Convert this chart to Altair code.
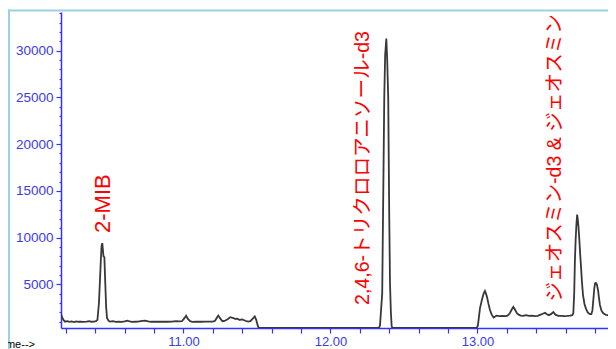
import altair as alt
import pandas as pd

# ---- chromatogram trace (retention time [min], abundance) ----
time_min = [
    10.167, 10.175, 10.185, 10.195, 10.21, 10.225, 10.24, 10.255, 10.27, 10.285,
    10.30, 10.32, 10.34, 10.36, 10.375, 10.39, 10.405, 10.415, 10.425, 10.432,
    10.438, 10.443, 10.448, 10.452, 10.456, 10.462, 10.468, 10.474, 10.48, 10.49,
    10.50, 10.52, 10.54, 10.56, 10.58, 10.60, 10.62, 10.635, 10.65, 10.67,
    10.69, 10.72, 10.74, 10.76, 10.78, 10.80, 10.83, 10.86, 10.89, 10.92,
    10.95, 10.97, 10.99, 11.005, 11.018, 11.03, 11.045, 11.06, 11.09, 11.12,
    11.15, 11.18, 11.20, 11.215, 11.228, 11.237, 11.25, 11.265, 11.28, 11.30,
    11.318, 11.335, 11.35, 11.365, 11.38, 11.40, 11.42, 11.44, 11.455, 11.47,
    11.485, 11.495, 11.505, 11.512,
    11.60, 11.90, 12.20, 12.330,
    12.337, 12.352, 12.359, 12.366, 12.372, 12.380, 12.386, 12.393, 12.400, 12.405,
    12.411, 12.416, 12.42,
    12.70, 12.995,
    13.003, 13.017, 13.030, 13.042, 13.051, 13.058, 13.065, 13.075, 13.085, 13.097,
    13.11, 13.13, 13.15, 13.17, 13.19, 13.205, 13.22, 13.235, 13.244, 13.255,
    13.268, 13.28, 13.295, 13.31, 13.33, 13.35, 13.37, 13.39, 13.41, 13.43,
    13.445, 13.459, 13.47, 13.485, 13.50, 13.516, 13.53, 13.55, 13.57, 13.59,
    13.61, 13.63, 13.645, 13.652, 13.658, 13.663, 13.668, 13.673, 13.678, 13.682,
    13.687, 13.693, 13.698, 13.704, 13.711, 13.718, 13.728, 13.738, 13.75, 13.765,
    13.775, 13.782, 13.788, 13.795, 13.800, 13.806, 13.812, 13.820, 13.827, 13.833,
    13.843, 13.854, 13.874, 13.90, 13.92, 13.942,
]
abundance = [
    1850, 1450, 1150, 1000, 1050, 980, 1020, 960, 1030, 990,
    1000, 970, 1010, 1060, 990, 1000, 1050, 1200, 3000, 5400,
    7600, 9100, 9400, 8700, 8000, 7900, 5200, 2600, 1400, 1100,
    1000, 1050, 980, 1000, 980, 1020, 1100, 1020, 980, 990,
    1000, 1080, 1120, 1040, 990, 1000, 990, 1000, 990, 1000,
    1060, 1030, 1050, 1350, 1640, 1300, 1050, 980, 1000, 990,
    1000, 1010, 1000, 1100, 1450, 1650, 1350, 1050, 1080, 1250,
    1480, 1420, 1300, 1320, 1200, 1230, 1100, 1000, 1050, 1300,
    1560, 1200, 600, 330,
    330, 330, 330, 330,
    600, 4000, 14400, 25000, 29500, 31300, 29000, 24900, 12200, 5100,
    2000, 600, 330,
    330, 330,
    600, 2430, 3320, 4000, 4280, 4000, 3640, 2900, 2250, 1750,
    1450, 1650, 1600, 1620, 1600, 1650, 1900, 2350, 2580, 2300,
    1900, 1750, 1650, 1620, 1700, 1620, 1640, 1600, 1620, 1750,
    1850, 1960, 1820, 1700, 1800, 2030, 1750, 1620, 1620, 1600,
    1620, 1650, 1700, 1900, 4000, 7600, 9800, 11350, 12450, 12000,
    11200, 9800, 8400, 7000, 5200, 3850, 2900, 2400, 2000, 1800,
    1800, 2200, 3320, 4600, 5100, 5150, 5000, 4390, 3500, 2790,
    2200, 1930, 1720, 1700, 1690, 1700,
]

# ---- peak annotations ----
label_text = ["2-MIB", "2,4,6-トリクロロアニソール-d3", "ジェオスミン-d3 & ジェオスミン"]
label_time = [10.450, 12.223, 13.527]
label_level = [10490, 2785, 3160]

# ---- axes ----
x_ticks = [10.2, 10.4, 10.6, 10.8, 11.0, 11.2, 11.4, 11.6, 11.8, 12.0,
           12.2, 12.4, 12.6, 12.8, 13.0, 13.2, 13.4, 13.6, 13.8]
y_ticks = list(range(1000, 35000, 1000))
x_domain = [10.167, 13.888]
y_domain = [323, 34140]

W, H = 547, 316
AXIS_BLUE = "#3333ff"
LABEL_BLUE = "#3a3ae8"
FRAME = "#9dd1de"

trace_df = pd.DataFrame({"t": time_min, "a": abundance})
label_df = pd.DataFrame({"label": label_text, "t": label_time, "a": label_level})
one = pd.DataFrame({"k": [0]})

x_scale = alt.Scale(domain=x_domain, nice=False, zero=False)
y_scale = alt.Scale(domain=y_domain, nice=False, zero=False)

x_axis = alt.Axis(
    values=x_ticks,
    labelExpr="abs(datum.value - round(datum.value)) < 0.001 ? format(datum.value, '.2f') : ''",
    title=None, grid=False,
    domainColor=AXIS_BLUE, domainWidth=1.5,
    tickColor=AXIS_BLUE, tickSize=5, tickWidth=1.2,
    labelColor=LABEL_BLUE, labelFont="Liberation Sans", labelFontSize=13,
    labelPadding=2, labelFlush=False, labelOverlap=False,
)
y_axis = alt.Axis(
    values=y_ticks,
    labelExpr="datum.value % 5000 == 0 ? format(datum.value, 'd') : ''",
    title=None, grid=False,
    domainColor=AXIS_BLUE, domainWidth=1.5,
    tickColor=AXIS_BLUE, tickWidth=1.2,
    tickSize={"condition": {"test": "datum.value % 5000 == 0", "value": 5}, "value": 2},
    labelColor=LABEL_BLUE, labelFont="Liberation Sans", labelFontSize=13.5,
    labelPadding=3, labelFlush=False, labelOverlap=False,
)

trace = alt.Chart(trace_df).mark_line(
    color="#383838", strokeWidth=1.8, clip=True
).encode(
    x=alt.X("t:Q", scale=x_scale, axis=x_axis),
    y=alt.Y("a:Q", scale=y_scale, axis=y_axis),
    order="t:Q",
)

labels = alt.Chart(label_df).mark_text(
    angle=270, align="left", baseline="middle", color="#ff0000",
    font="Liberation Sans, Noto Sans CJK JP",
).encode(
    x=alt.X("t:Q", scale=x_scale, axis=x_axis),
    y=alt.Y("a:Q", scale=y_scale, axis=y_axis),
    text="label:N",
    size=alt.condition("datum.label == '2-MIB'", alt.value(22), alt.value(19.6)),
)

frame_left = alt.Chart(one).mark_rule(color=FRAME, strokeWidth=2).encode(
    x=alt.value(-52), y=alt.value(-2.5), y2=alt.value(H + 30)
)
frame_top = alt.Chart(one).mark_rule(color=FRAME, strokeWidth=2).encode(
    x=alt.value(-53), x2=alt.value(W), y=alt.value(-1.5)
)
time_lbl = alt.Chart(one).mark_text(
    align="right", baseline="alphabetic", fontSize=11, font="Liberation Sans", color="#000000"
).encode(x=alt.value(-26), y=alt.value(336), text=alt.value("Time-->"))

chart = alt.layer(frame_left, frame_top, trace, labels, time_lbl).properties(
    width=W, height=H,
    padding={"left": 53, "top": 4, "right": 0, "bottom": 21},
    autosize=alt.AutoSizeParams(type="none"),
).configure_view(stroke=None).configure_axis(labelOverlap=False)

chart.save("out.html", embed_options={"renderer": "svg", "actions": False})
